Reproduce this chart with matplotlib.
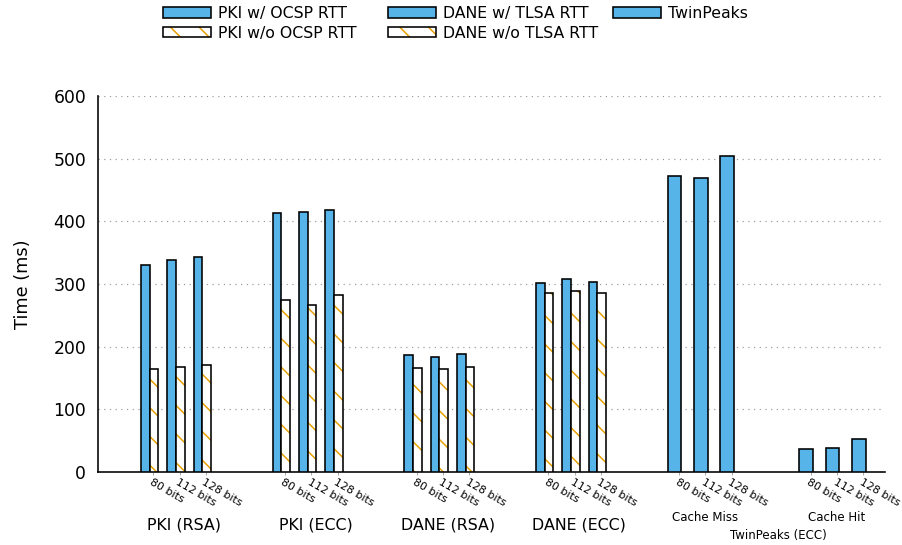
import numpy as np
import matplotlib.pyplot as plt
from matplotlib import transforms
from matplotlib.patches import Patch

# values, handshake time in ms
key_sizes = ["80 bits", "112 bits", "128 bits"]
groups = ["PKI (RSA)", "PKI (ECC)", "DANE (RSA)", "DANE (ECC)"]

pki_rsa_with = [331, 339, 343]
pki_rsa_without = [164, 167, 170]
pki_ecc_with = [413, 415, 418]
pki_ecc_without = [274, 266, 282]
dane_rsa_with = [186, 184, 188]
dane_rsa_without = [166, 165, 168]
dane_ecc_with = [302, 308, 303]
dane_ecc_without = [285, 289, 285]

tp_modes = ["Cache Miss", "Cache Hit"]
tp_cache_miss = [472, 469, 505]
tp_cache_hit = [37, 39, 53]

y_ticks = [0, 100, 200, 300, 400, 500, 600]

legend_labels = ["PKI w/ OCSP RTT", "PKI w/o OCSP RTT",
                 "DANE w/ TLSA RTT", "DANE w/o TLSA RTT", "TwinPeaks"]

BLUE = "#56B4E9"
ORANGE = "#E69F00"

# high dpi so the hatch comes out as sparse as in the original
DPI = 172


def px(n):
    """pixels -> points at the figure dpi"""
    return n * 72 / DPI


plt.rcParams["font.family"] = "DejaVu Sans"
plt.rcParams["hatch.linewidth"] = px(1.5)
plt.rcParams["lines.scale_dashes"] = False

fig = plt.figure(figsize=(902 / DPI, 545 / DPI), dpi=DPI)
ax = fig.add_axes([98 / 902, 73 / 545, 787 / 902, 376 / 545])

with_rtt = [pki_rsa_with, pki_ecc_with, dane_rsa_with, dane_ecc_with]
without_rtt = [pki_rsa_without, pki_ecc_without, dane_rsa_without, dane_ecc_without]
tp_values = [tp_cache_miss, tp_cache_hit]

bw = 0.33   # width of the paired bars
tw = 0.52   # width of the TwinPeaks bars
lw = px(1.6)

ticks = []
for g in range(len(groups)):
    x = g * 5 + np.arange(len(key_sizes))
    ax.bar(x, with_rtt[g], width=bw, align="edge", color=BLUE,
           edgecolor="black", linewidth=lw, zorder=3)
    ax.bar(x + bw, without_rtt[g], width=bw, align="edge", color="white",
           edgecolor=ORANGE, linewidth=0, hatch="\\\\", zorder=3)
    ax.bar(x + bw, without_rtt[g], width=bw, align="edge", fill=False,
           edgecolor="black", linewidth=lw, zorder=4)
    ticks.extend(x + 0.47)

for m in range(len(tp_modes)):
    x = (len(groups) + m) * 5 + np.arange(len(key_sizes))
    ax.bar(x, tp_values[m], width=tw, align="edge", color=BLUE,
           edgecolor="black", linewidth=lw, zorder=3)
    ticks.extend(x + 0.44)

ax.set_xlim(-1.633, 28.26)
ax.set_ylim(0, 600)
ax.set_yticks(y_ticks)
ax.set_xticks(ticks)
ax.set_xticklabels([])
ax.tick_params(axis="x", length=px(3), width=px(1), color="#aaaaaa")
ax.tick_params(axis="y", length=0, pad=px(12), labelsize=px(17.3))

ax.set_ylabel("Time (ms)", fontsize=px(17.8))
ax.yaxis.set_label_coords(-0.084, 0.5)

for side in ["top", "right"]:
    ax.spines[side].set_visible(False)
for side in ["left", "bottom"]:
    ax.spines[side].set_linewidth(lw)

ax.yaxis.grid(True, color="#999999", linewidth=px(1.2),
              linestyle=(0, (px(1.2), px(4.5))))
ax.set_axisbelow(True)

# x labels: rotated key sizes, then group names
xt = transforms.blended_transform_factory(ax.transData, ax.transAxes)
for i, t in enumerate(ticks):
    ax.text(t - 0.02, -0.013, key_sizes[i % len(key_sizes)], transform=xt,
            rotation=-30, rotation_mode="anchor", ha="left", va="top",
            fontsize=px(11))

for g, name in enumerate(groups):
    ax.text(g * 5 + 1.65, -0.141, name, transform=xt, ha="center",
            va="center", fontsize=px(15.9))
for m, mode in enumerate(tp_modes):
    ax.text((len(groups) + m) * 5 + 1.42, -0.122, mode, transform=xt,
            ha="center", va="center", fontsize=px(11.8))
ax.text(len(groups) * 5 + 4.2, -0.168, "TwinPeaks (ECC)", transform=xt,
        ha="center", va="center", fontsize=px(11.8))

# legend, one block per column
solid = Patch(facecolor=BLUE, edgecolor="black", linewidth=lw)
hatched = (Patch(facecolor="white", edgecolor=ORANGE, hatch="\\\\", linewidth=0),
           Patch(fill=False, edgecolor="black", linewidth=lw))
handles = [solid, hatched, solid, hatched, solid]

columns = [(0, 2, 163), (2, 4, 388), (4, 5, 613)]
for start, stop, x0 in columns:
    fig.legend(handles[start:stop], legend_labels[start:stop],
               loc="upper left", bbox_to_anchor=(x0 / 902, 1 - 6 / 545),
               frameon=False, fontsize=px(15.8), borderpad=0,
               borderaxespad=0, handlelength=3.05, handleheight=0.64,
               handletextpad=0.45, labelspacing=0.3)

fig.savefig("out.png", dpi=DPI)
